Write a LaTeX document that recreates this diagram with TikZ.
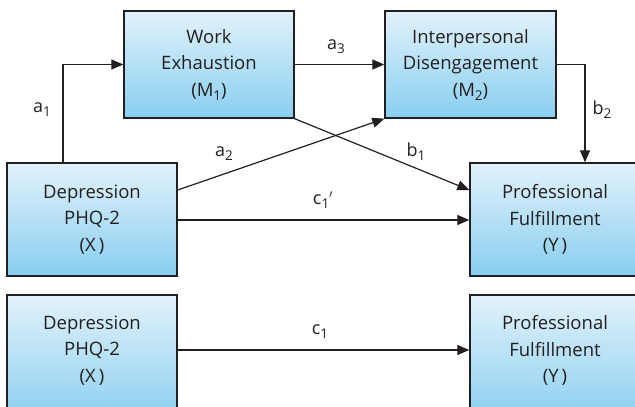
\documentclass[tikz,border=0pt]{standalone}
\usepackage{fontspec}
\setmainfont{Open Sans}
\usetikzlibrary{arrows.meta}
\definecolor{boxtop}{RGB}{226,242,251}
\definecolor{boxbot}{RGB}{136,206,239}
\definecolor{ink}{RGB}{35,31,32}
\newcommand{\idx}[1]{\raisebox{-0.4ex}{\fontsize{13.5}{14}\selectfont #1}}
\tikzset{
  var/.style={draw=ink, line width=1.4pt, top color=boxtop, bottom color=boxbot,
    inner sep=0pt},
  varname/.style={align=center, text=ink, inner sep=0pt,
    font=\fontsize{18.5}{26.5}\selectfont},
  path/.style={draw=ink, line width=1.2pt, -{Triangle[length=12pt,width=10pt]}},
  coef/.style={text=ink, font=\fontsize{18}{20}\selectfont, inner sep=0pt}
}
\begin{document}
\begin{tikzpicture}[x=1pt,y=-1pt]
\useasboundingbox (0,0) rectangle (635,407);
\begin{scope}
\clip (0,0) rectangle (635,407);
% mediators
\node[var, minimum width=170pt, minimum height=107pt] (m1) at (209,64.5) {};
\node[var, minimum width=171pt, minimum height=107pt] (m2) at (470.5,64.5) {};
% full model
\node[var, minimum width=170pt, minimum height=113pt] (x) at (92,219.5) {};
\node[var, minimum width=200pt, minimum height=113pt] (y) at (570,219.5) {};
% total effect model
\node[var, minimum width=170pt, minimum height=130pt] (x2) at (92,360) {};
\node[var, minimum width=200pt, minimum height=130pt] (y2) at (570,360) {};
\end{scope}
% variable names
\node[varname] (m1t) at (209,64.5) {Work\\Exhaustion\\(M\idx{1})};
\node[varname] (m2t) at (470.5,64.5) {Interpersonal\\Disengagement\\(M\idx{2})};
\node[varname] (xt) at (92,219.5) {Depression\\PHQ-2\\(X\,)};
\node[varname] (yt) at (555,219.5) {Professional\\Fulfillment\\(Y\,)};
\node[varname] (x2t) at (92,350.5) {Depression\\PHQ-2\\(X\,)};
\node[varname] (y2t) at (555,350.5) {Professional\\Fulfillment\\(Y\,)};
% connectors
\draw[path] (x.north -| 63,0) |- (m1.west);
\draw[path] (m1.east) -- (m2.west);
\draw[path] (x.east |- 0,190) -- (m2.south west);
\draw[path] (m1.south east) -- (y.west |- 0,190);
\draw[path] (m2.east) -| (y.north -| 585,0);
\draw[path] (x.east |- 0,220) -- (y.west |- 0,220);
\draw[path] (x2.east |- 0,350) -- (y2.west |- 0,350);
% coefficients
\node[coef] (la1) at (42,110) {a\idx{1}};
\node[coef] (la2) at (224,154) {a\idx{2}};
\node[coef] (la3) at (336,47) {a\idx{3}};
\node[coef] (lb1) at (416,152) {b\idx{1}};
\node[coef] (lb2) at (602,110) {b\idx{2}};
\node[coef] (lc1p) at (323,200) {c\idx{1}$'$};
\node[coef] (lc1) at (320,332) {c\idx{1}};
\end{tikzpicture}
\end{document}
